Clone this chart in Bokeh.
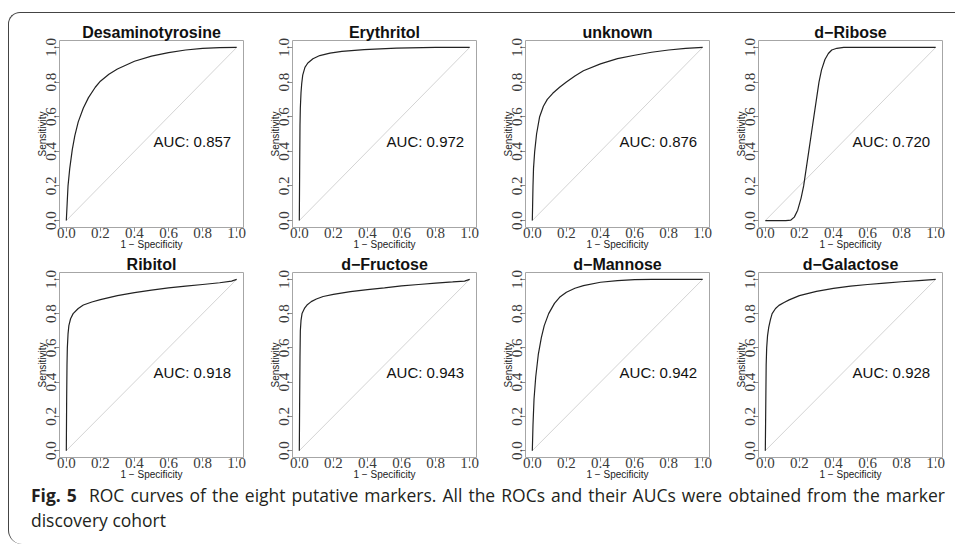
from bokeh.plotting import figure
from bokeh.layouts import row, column
from bokeh.models import Div, Range1d, FixedTicker, PrintfTickFormatter, Label
from bokeh.embed import file_html
from bokeh.resources import INLINE

# ---------------- data ----------------
marker_names = ["Desaminotyrosine", "Erythritol", "unknown", "d\u2212Ribose",
                "Ribitol", "d\u2212Fructose", "d\u2212Mannose", "d\u2212Galactose"]
auc_values = [0.857, 0.972, 0.876, 0.720, 0.918, 0.943, 0.942, 0.928]

fpr_desaminotyrosine = [0.0, 0.005, 0.01, 0.02, 0.035, 0.05, 0.07, 0.1, 0.13, 0.17, 0.2, 0.25, 0.3, 0.4, 0.5, 0.6, 0.7, 0.8, 0.9, 1.0]
tpr_desaminotyrosine = [0.0, 0.1, 0.2, 0.3, 0.41, 0.49, 0.57, 0.65, 0.71, 0.77, 0.805, 0.845, 0.875, 0.92, 0.95, 0.97, 0.985, 0.995, 0.999, 1.0]

fpr_erythritol = [0.0, 0.002, 0.004, 0.006, 0.01, 0.014, 0.02, 0.033, 0.05, 0.08, 0.12, 0.18, 0.25, 0.38, 0.57, 0.8, 1.0]
tpr_erythritol = [0.0, 0.3, 0.55, 0.65, 0.74, 0.79, 0.84, 0.885, 0.91, 0.935, 0.953, 0.967, 0.977, 0.987, 0.996, 1.0, 1.0]

fpr_unknown = [0.0, 0.002, 0.004, 0.007, 0.014, 0.025, 0.043, 0.065, 0.088, 0.12, 0.16, 0.2, 0.25, 0.3, 0.4, 0.5, 0.6, 0.7, 0.8, 0.9, 1.0]
tpr_unknown = [0.0, 0.1, 0.2, 0.3, 0.4, 0.5, 0.6, 0.66, 0.7, 0.735, 0.77, 0.8, 0.835, 0.865, 0.905, 0.935, 0.955, 0.972, 0.985, 0.994, 1.0]

fpr_ribose = [0.0, 0.12, 0.15, 0.17, 0.19, 0.21, 0.225, 0.24, 0.255, 0.27, 0.285, 0.3, 0.315, 0.33, 0.35, 0.37, 0.39, 0.42, 0.46, 1.0]
tpr_ribose = [0.0, 0.0, 0.003, 0.02, 0.06, 0.13, 0.2, 0.3, 0.4, 0.5, 0.6, 0.7, 0.8, 0.87, 0.93, 0.965, 0.985, 0.995, 1.0, 1.0]

fpr_ribitol = [0.0, 0.002, 0.004, 0.006, 0.01, 0.015, 0.025, 0.04, 0.07, 0.1, 0.15, 0.2, 0.3, 0.4, 0.5, 0.6, 0.7, 0.8, 0.9, 0.97, 1.0]
tpr_ribitol = [0.0, 0.3, 0.5, 0.6, 0.68, 0.73, 0.77, 0.8, 0.83, 0.85, 0.868, 0.882, 0.905, 0.923, 0.937, 0.95, 0.96, 0.97, 0.98, 0.99, 1.0]

fpr_fructose = [0.0, 0.002, 0.004, 0.006, 0.01, 0.016, 0.03, 0.045, 0.07, 0.1, 0.14, 0.2, 0.3, 0.4, 0.5, 0.6, 0.7, 0.8, 0.9, 0.97, 1.0]
tpr_fructose = [0.0, 0.3, 0.55, 0.7, 0.76, 0.8, 0.83, 0.85, 0.87, 0.885, 0.9, 0.912, 0.928, 0.94, 0.95, 0.962, 0.97, 0.978, 0.985, 0.99, 1.0]

fpr_mannose = [0.0, 0.004, 0.01, 0.02, 0.035, 0.053, 0.07, 0.096, 0.13, 0.16, 0.2, 0.25, 0.3, 0.4, 0.5, 0.6, 0.7, 1.0]
tpr_mannose = [0.0, 0.15, 0.3, 0.43, 0.56, 0.66, 0.73, 0.8, 0.86, 0.895, 0.925, 0.948, 0.963, 0.983, 0.993, 0.998, 1.0, 1.0]

fpr_galactose = [0.0, 0.003, 0.005, 0.008, 0.013, 0.02, 0.03, 0.04, 0.06, 0.08, 0.11, 0.14, 0.2, 0.3, 0.4, 0.5, 0.6, 0.7, 0.8, 0.9, 1.0]
tpr_galactose = [0.0, 0.3, 0.5, 0.6, 0.67, 0.72, 0.765, 0.8, 0.83, 0.848, 0.865, 0.88, 0.905, 0.93, 0.947, 0.96, 0.97, 0.978, 0.986, 0.993, 1.0]

chance_line = [0.0, 1.0]
tick_values = [0.0, 0.2, 0.4, 0.6, 0.8, 1.0]
x_axis_label = "1 \u2212 Specificity"
y_axis_label = "Sensitivity"
caption_bold = "Fig. 5"
caption_text = ("ROC curves of the eight putative markers. All the ROCs and their AUCs "
                "were obtained from the marker")
caption_text2 = "discovery cohort"

curves = [
    (fpr_desaminotyrosine, tpr_desaminotyrosine),
    (fpr_erythritol, tpr_erythritol),
    (fpr_unknown, tpr_unknown),
    (fpr_ribose, tpr_ribose),
    (fpr_ribitol, tpr_ribitol),
    (fpr_fructose, tpr_fructose),
    (fpr_mannose, tpr_mannose),
    (fpr_galactose, tpr_galactose),
]

TICK_FONT = "Liberation Sans Narrow"
MAIN_FONT = "Liberation Sans"


def make_panel(name, auc, fpr, tpr, top_border):
    frame_h = 187
    bottom_border = 26
    p = figure(width=233, height=top_border + frame_h + bottom_border,
               x_range=Range1d(-0.04, 1.04), y_range=Range1d(-0.04, 1.04),
               output_backend="svg", toolbar_location=None, tools="",
               min_border_left=45, min_border_right=4,
               min_border_top=top_border, min_border_bottom=bottom_border)
    p.background_fill_color = "white"
    p.border_fill_color = None
    p.grid.visible = False
    p.outline_line_color = "#a6a6a6"
    p.outline_line_width = 1

    p.title.text = name
    p.title.align = "center"
    p.title.text_font = MAIN_FONT
    p.title.text_font_size = "16px"
    p.title.text_font_style = "bold"
    p.title.text_color = "#111111"
    p.title.standoff = 0

    for ax in (p.xaxis[0], p.yaxis[0]):
        ax.ticker = FixedTicker(ticks=tick_values)
        ax.formatter = PrintfTickFormatter(format="%.1f")
        ax.axis_line_color = None
        ax.major_tick_line_color = "#8c8c8c"
        ax.major_tick_in = 0
        ax.major_tick_out = 4
        ax.minor_tick_line_color = None
        ax.major_label_text_font = TICK_FONT
        ax.major_label_text_font_size = "15px"
        ax.major_label_text_color = "#3a3a3a"
        ax.axis_label_text_font = MAIN_FONT
        ax.axis_label_text_font_size = "10px"
        ax.axis_label_text_font_style = "normal"
        ax.axis_label_text_color = "#222222"

    p.xaxis.axis_label = x_axis_label
    p.xaxis.major_label_standoff = -4
    p.xaxis.axis_label_standoff = -2

    p.yaxis.axis_label = y_axis_label
    p.yaxis.major_label_orientation = "parallel"
    p.yaxis.major_label_standoff = -1
    p.yaxis.axis_label_standoff = -4

    p.line(chance_line, chance_line, line_color="#d4d4d4", line_width=1)
    p.line(fpr, tpr, line_color="#222222", line_width=1.2)

    p.add_layout(Label(x=0.74, y=0.455, text="AUC: %.3f" % auc,
                       text_align="center", text_baseline="middle",
                       text_font=MAIN_FONT, text_font_size="15px",
                       text_color="#111111"))
    return p


panels = []
for i, (nm, auc, (fx, ty)) in enumerate(zip(marker_names, auc_values, curves)):
    panels.append(make_panel(nm, auc, fx, ty, 27 if i < 4 else 17))

row1 = row(*panels[:4], spacing=0)
row2 = row(*panels[4:], spacing=0)

caption = Div(
    text=('<div style="font-family:\'Open Sans\';font-size:17.5px;line-height:25px;'
          'color:#231f20;margin-left:12px;width:914px;">'
          '<div style="text-align:justify;text-align-last:justify;white-space:nowrap;">'
          '<b>%s</b>&nbsp; %s</div><div>%s</div></div>') % (caption_bold, caption_text, caption_text2),
    width=932, height=56,
    styles={"margin-top": "0px"},
)

layout = column(row1, row2, caption, spacing=0,
                styles={"margin-left": "8px", "margin-top": "12px",
                        "border-left": "1.5px solid #444", "border-top": "1.5px solid #444",
                        "border-top-left-radius": "12px", "border-bottom-left-radius": "14px",
                        "padding-left": "5px", "padding-right": "9px",
                        "background": "white"})

open("out.html", "w").write(file_html(layout, INLINE))
